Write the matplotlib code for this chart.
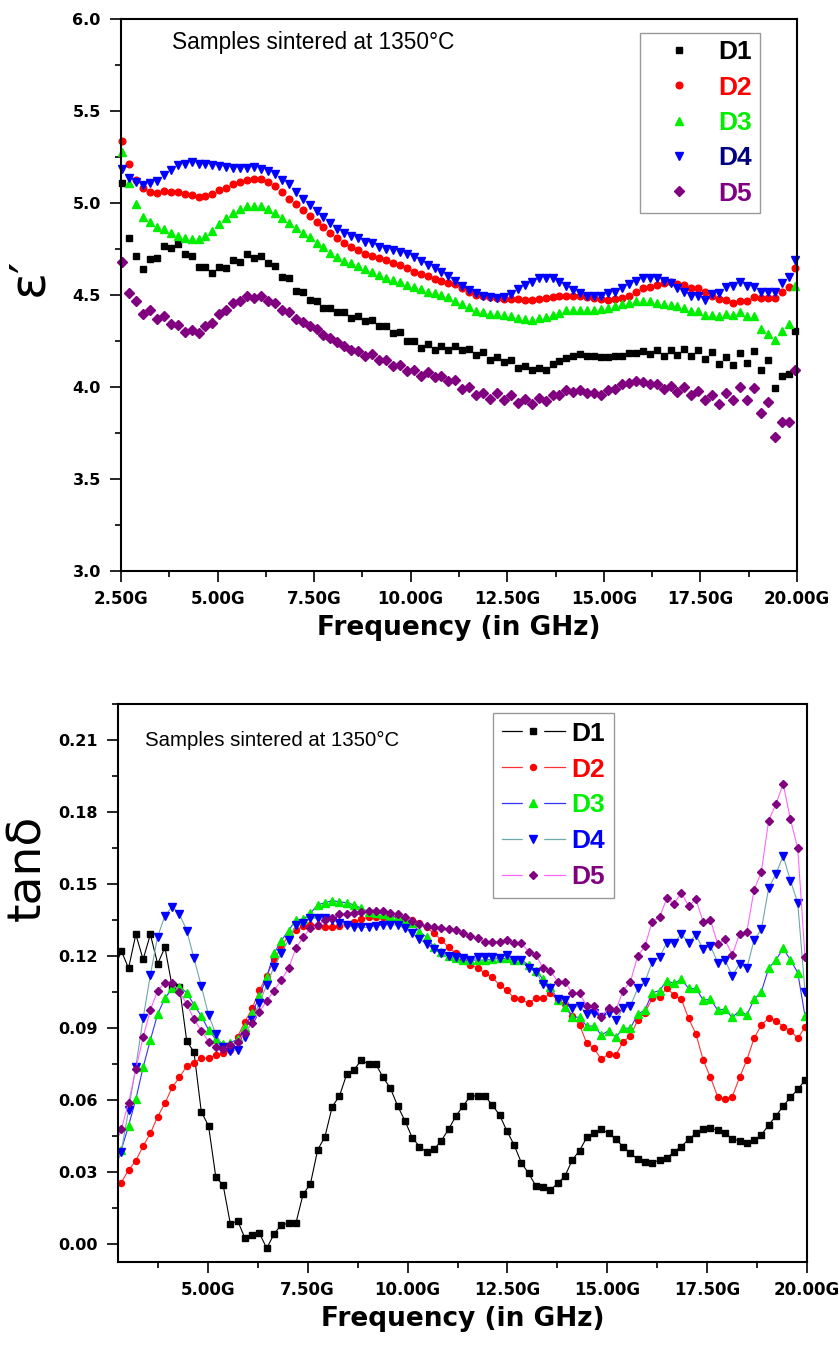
import numpy as np
import matplotlib
matplotlib.use('Agg')
from matplotlib import pyplot as plt
from matplotlib.lines import Line2D
from matplotlib.legend_handler import HandlerTuple
from matplotlib.ticker import MultipleLocator, FuncFormatter

plt.rcParams['font.family'] = ['DejaVu Sans']
ARIAL = ['Liberation Sans', 'DejaVu Sans']

# ---- data: permittivity (top) ----
eps_freq = np.linspace(2.53, 19.96, 98)
eps_d1 = [5.109, 4.808, 4.712, 4.64, 4.694, 4.7, 4.766, 4.754, 4.777, 4.723,
          4.712, 4.654, 4.654, 4.618, 4.654, 4.645, 4.69, 4.681, 4.723, 4.7,
          4.712, 4.672, 4.658, 4.6, 4.591, 4.524, 4.514, 4.474, 4.47, 4.429,
          4.429, 4.405, 4.405, 4.375, 4.384, 4.357, 4.362, 4.329, 4.333, 4.293,
          4.297, 4.248, 4.248, 4.212, 4.236, 4.203, 4.221, 4.203, 4.225,
          4.203, 4.207, 4.176, 4.189, 4.149, 4.163, 4.134, 4.145, 4.104, 4.116,
          4.091, 4.104, 4.095, 4.127, 4.14, 4.158, 4.171, 4.181, 4.171, 4.171,
          4.163, 4.163, 4.167, 4.167, 4.185, 4.185, 4.194, 4.181, 4.203, 4.171,
          4.203, 4.176, 4.207, 4.171, 4.203, 4.153, 4.189, 4.127, 4.163, 4.122,
          4.185, 4.131, 4.194, 4.095, 4.149, 3.995, 4.062, 4.068, 4.302]
eps_d2 = [5.337, 5.21, 5.127, 5.079, 5.06, 5.055, 5.066, 5.06, 5.06, 5.051,
          5.042, 5.033, 5.037, 5.051, 5.069, 5.084, 5.102, 5.115, 5.127, 5.133,
          5.133, 5.115, 5.091, 5.06, 5.024, 4.994, 4.961, 4.929, 4.898, 4.867,
          4.835, 4.808, 4.78, 4.759, 4.745, 4.723, 4.712, 4.699, 4.69, 4.676,
          4.663, 4.645, 4.627, 4.615, 4.604, 4.586, 4.578, 4.564, 4.56,
          4.537, 4.519, 4.501, 4.492, 4.488, 4.483, 4.479, 4.477, 4.477, 4.474,
          4.474, 4.479, 4.483, 4.488, 4.492, 4.497, 4.497, 4.492, 4.488, 4.483,
          4.479, 4.474, 4.479, 4.483, 4.492, 4.514, 4.537, 4.546, 4.555, 4.564,
          4.568, 4.56, 4.555, 4.537, 4.537, 4.514, 4.495, 4.477, 4.474, 4.456,
          4.47, 4.47, 4.488, 4.483, 4.483, 4.483, 4.519, 4.546, 4.645]
eps_d3 = [5.277, 5.106, 4.997, 4.925, 4.898, 4.871, 4.856, 4.835, 4.82, 4.808,
          4.802, 4.802, 4.82, 4.849, 4.885, 4.916, 4.947, 4.97, 4.983, 4.983,
          4.983, 4.965, 4.943, 4.916, 4.893, 4.862, 4.835, 4.813, 4.784, 4.759,
          4.73, 4.708, 4.685, 4.672, 4.658, 4.64, 4.627, 4.609, 4.591, 4.582,
          4.573, 4.555, 4.546, 4.532, 4.519, 4.51, 4.501, 4.488, 4.47,
          4.452, 4.434, 4.411, 4.405, 4.398, 4.398, 4.393, 4.387, 4.375, 4.369,
          4.366, 4.375, 4.38, 4.393, 4.402, 4.416, 4.42, 4.42, 4.42, 4.42,
          4.423, 4.429, 4.438, 4.452, 4.459, 4.465, 4.47, 4.465, 4.456, 4.452,
          4.447, 4.438, 4.429, 4.411, 4.411, 4.393, 4.393, 4.384, 4.398, 4.393,
          4.405, 4.384, 4.384, 4.315, 4.29, 4.254, 4.302, 4.344, 4.55]
eps_d4 = [5.187, 5.138, 5.115, 5.10, 5.109, 5.12, 5.15, 5.178, 5.205, 5.214,
          5.221, 5.214, 5.21, 5.205, 5.2, 5.196, 5.192, 5.192, 5.192, 5.196,
          5.187, 5.174, 5.156, 5.127, 5.102, 5.06, 5.024, 4.988, 4.958, 4.925,
          4.889, 4.856, 4.835, 4.82, 4.808, 4.79, 4.78, 4.763, 4.75, 4.745,
          4.736, 4.723, 4.705, 4.687, 4.663, 4.645, 4.627, 4.604, 4.578,
          4.55, 4.528, 4.51, 4.497, 4.488, 4.486, 4.488, 4.506, 4.532, 4.555,
          4.573, 4.591, 4.595, 4.591, 4.573, 4.55, 4.528, 4.51, 4.497, 4.492,
          4.497, 4.51, 4.519, 4.537, 4.559, 4.578, 4.591, 4.591, 4.591, 4.578,
          4.564, 4.537, 4.519, 4.497, 4.492, 4.474, 4.506, 4.51, 4.542, 4.55,
          4.568, 4.55, 4.546, 4.519, 4.519, 4.519, 4.564, 4.6, 4.69]
eps_d5 = [4.681, 4.51, 4.465, 4.398, 4.416, 4.369, 4.387, 4.344, 4.338, 4.297,
          4.311, 4.293, 4.333, 4.347, 4.398, 4.416, 4.456, 4.465, 4.495, 4.483,
          4.495, 4.465, 4.456, 4.42, 4.405, 4.369, 4.351, 4.333, 4.315, 4.284,
          4.266, 4.243, 4.221, 4.2, 4.194, 4.171, 4.182, 4.149, 4.145, 4.113,
          4.122, 4.086, 4.091, 4.062, 4.08, 4.055, 4.062, 4.031, 4.037,
          3.99, 4.001, 3.954, 3.968, 3.936, 3.965, 3.929, 3.959, 3.914, 3.936,
          3.905, 3.941, 3.923, 3.959, 3.959, 3.983, 3.972, 3.983, 3.965, 3.968,
          3.959, 3.986, 3.99, 4.014, 4.023, 4.032, 4.026, 4.014, 4.019, 3.99,
          4.005, 3.972, 4.001, 3.954, 3.977, 3.929, 3.959, 3.91, 3.968, 3.929,
          4.001, 3.929, 3.995, 3.86, 3.918, 3.73, 3.81, 3.81, 4.095]

# ---- data: loss tangent (bottom) ----
tan_freq = np.linspace(2.65, 19.95, 96)
tan_d1 = [0.114, 0.1222, 0.1149, 0.129, 0.1186, 0.129, 0.1167, 0.1236, 0.1072, 0.1072,
          0.0846, 0.0799, 0.0551, 0.0492, 0.0278, 0.0246, 0.0083, 0.0097, 0.0024, 0.0038,
          0.0044, -0.0018, 0.0042, 0.008, 0.0086, 0.0086, 0.0208, 0.025, 0.0392, 0.0447,
          0.0572, 0.0617, 0.0708, 0.0725, 0.0767, 0.0749, 0.0749, 0.0694, 0.0649, 0.0575,
          0.0513, 0.0443, 0.0406, 0.0382, 0.0394, 0.0431, 0.0478, 0.0533,
          0.0575, 0.0617, 0.0617, 0.0617, 0.0579, 0.0538, 0.0472, 0.0413, 0.0339, 0.0294,
          0.0242, 0.0236, 0.0225, 0.0253, 0.0283, 0.035, 0.0389, 0.0444, 0.0464, 0.0478,
          0.0461, 0.0436, 0.0406, 0.0378, 0.0353, 0.0343, 0.0339, 0.035, 0.0357, 0.0385,
          0.0406, 0.0436, 0.0461, 0.0478, 0.0482, 0.0475, 0.0464, 0.0436, 0.0431, 0.0419,
          0.0433, 0.0454, 0.0496, 0.0533, 0.0575, 0.0611, 0.0644, 0.0683]
tan_d2 = [0.022, 0.0256, 0.0308, 0.0347, 0.0408, 0.0461, 0.0531, 0.0586, 0.0653, 0.0694,
          0.0742, 0.0756, 0.0774, 0.0774, 0.0788, 0.0794, 0.0808, 0.0864, 0.0926, 0.0982,
          0.1058, 0.1117, 0.1186, 0.1236, 0.1288, 0.1308, 0.1325, 0.1329, 0.1325, 0.1322,
          0.1319, 0.1325, 0.1333, 0.1343, 0.1353, 0.1361, 0.1364, 0.1364, 0.1367, 0.1361,
          0.1357, 0.135, 0.1339, 0.1319, 0.1294, 0.1267, 0.1236, 0.1211,
          0.1186, 0.1163, 0.1151, 0.1128, 0.1111, 0.1079, 0.1058, 0.1024, 0.1019, 0.1003,
          0.1024, 0.1024, 0.1044, 0.1017, 0.1, 0.095, 0.0913, 0.0836, 0.0815, 0.0769,
          0.0792, 0.0788, 0.0843, 0.0867, 0.0933, 0.0964, 0.1024, 0.1031, 0.1065, 0.1038,
          0.1019, 0.094, 0.0875, 0.0767, 0.0694, 0.0614, 0.0603, 0.0614, 0.0694, 0.0767,
          0.0857, 0.0913, 0.094, 0.0931, 0.0906, 0.0889, 0.0857, 0.0903]
tan_d3 = [0.033, 0.0392, 0.0492, 0.0603, 0.0736, 0.085, 0.0958, 0.1024, 0.1065, 0.1072,
          0.1047, 0.0996, 0.095, 0.0892, 0.0853, 0.0833, 0.0839, 0.0853, 0.0906, 0.0961,
          0.1033, 0.1114, 0.1211, 0.1264, 0.1306, 0.135, 0.1353, 0.1378, 0.1413, 0.1422,
          0.1431, 0.1426, 0.1422, 0.1413, 0.1399, 0.1385, 0.1381, 0.1375, 0.1367, 0.1361,
          0.1353, 0.1336, 0.1301, 0.1278, 0.1236, 0.1218, 0.12, 0.119,
          0.1183, 0.1183, 0.1183, 0.1183, 0.1186, 0.119, 0.119, 0.1183, 0.1183, 0.1163,
          0.1139, 0.1103, 0.1072, 0.1017, 0.0989, 0.0947, 0.0944, 0.0908, 0.0908, 0.0871,
          0.0889, 0.0861, 0.0899, 0.0899, 0.0958, 0.0975, 0.1047, 0.1056, 0.1097, 0.1086,
          0.1103, 0.1065, 0.1065, 0.1017, 0.1019, 0.0975, 0.0978, 0.0944, 0.0972, 0.0954,
          0.1019, 0.1051, 0.1149, 0.1183, 0.1232, 0.1183, 0.1131, 0.095]
tan_d4 = [0.030, 0.0385, 0.0558, 0.0739, 0.094, 0.1121, 0.1281, 0.1367, 0.1406, 0.1375,
          0.1306, 0.119, 0.1075, 0.0954, 0.0875, 0.0822, 0.0806, 0.0808, 0.0864, 0.0933,
          0.1006, 0.1079, 0.1156, 0.1211, 0.1267, 0.1329, 0.1339, 0.1357, 0.1357, 0.1357,
          0.135, 0.1339, 0.1329, 0.1319, 0.1319, 0.1319, 0.1325, 0.1329, 0.1329, 0.1329,
          0.1315, 0.1294, 0.1269, 0.125, 0.1228, 0.1211, 0.12, 0.1194,
          0.119, 0.1183, 0.1194, 0.1197, 0.1197, 0.119, 0.1204, 0.1183, 0.1183, 0.1149,
          0.1135, 0.1083, 0.1065, 0.1019, 0.1017, 0.0982, 0.0992, 0.0958, 0.0961, 0.0944,
          0.0961, 0.0933, 0.0982, 0.0992, 0.1065, 0.1093, 0.1176, 0.1194, 0.1256, 0.1253,
          0.1292, 0.1256, 0.1288, 0.1228, 0.1242, 0.1172, 0.1183, 0.1117, 0.1167, 0.1149,
          0.1267, 0.1311, 0.1482, 0.1542, 0.1617, 0.1514, 0.1422, 0.1051]
tan_d5 = [0.040, 0.0478, 0.0589, 0.0728, 0.0861, 0.0975, 0.1056, 0.1089, 0.1089, 0.1051,
          0.1, 0.0936, 0.0889, 0.0843, 0.0819, 0.0811, 0.0829, 0.0843, 0.0881, 0.0922,
          0.0968, 0.1014, 0.1056, 0.11, 0.1149, 0.1232, 0.1278, 0.1315, 0.1329, 0.135,
          0.1357, 0.1375, 0.1375, 0.1381, 0.1385, 0.1389, 0.1389, 0.1389, 0.1381, 0.1375,
          0.1361, 0.1347, 0.1333, 0.1325, 0.1319, 0.1315, 0.1311, 0.1308,
          0.1297, 0.1283, 0.1274, 0.126, 0.126, 0.126, 0.1267, 0.1253, 0.1253, 0.1218,
          0.1204, 0.1149, 0.1139, 0.1093, 0.1093, 0.1044, 0.1044, 0.0992, 0.0992, 0.0947,
          0.0982, 0.0975, 0.1056, 0.1093, 0.12, 0.1242, 0.1343, 0.1361, 0.144, 0.1417,
          0.1464, 0.1408, 0.1436, 0.1343, 0.135, 0.125, 0.1269, 0.1204, 0.1292, 0.1301,
          0.1475, 0.1551, 0.1764, 0.1833, 0.1917, 0.1769, 0.1649, 0.1197]

labels = ['D1', 'D2', 'D3', 'D4', 'D5']
markers = ['s', 'o', '^', 'v', 'D']
marker_colors = ['black', '#ff0000', '#00ee00', '#0000ff', '#800080']
marker_sizes = [4.3, 4.8, 6.0, 6.0, 4.8]
top_text_colors = ['black', '#ff0000', '#00ee00', '#000080', '#800080']
bot_text_colors = ['black', '#ff0000', '#00ee00', '#0000ff', '#800080']
line_colors = ['black', '#ff3333', '#3333ff', '#6fa8a8', '#ff66ff']

ghz_fmt = FuncFormatter(lambda v, p: '%.2fG' % v)


def style_axis(ax):
    for s in ax.spines.values():
        s.set_linewidth(1.5)
    ax.tick_params(which='both', direction='out', top=False, right=False, width=1.2)
    ax.tick_params(which='major', length=8)
    ax.tick_params(which='minor', length=4.3)
    ax.tick_params(axis='x', which='major', labelsize=12, pad=6)
    ax.tick_params(axis='y', which='major', labelsize=11.5, pad=6.5)
    for t in ax.get_xticklabels() + ax.get_yticklabels():
        t.set_fontweight('bold')


fig = plt.figure(figsize=(8.39, 13.52), dpi=100)

# ---- top panel ----
ax1 = fig.add_axes([121/839, 1-571/1352, 676/839, 552/1352])
for y, lab, m, c, ms in zip([eps_d1, eps_d2, eps_d3, eps_d4, eps_d5],
                            labels, markers, marker_colors, marker_sizes):
    ax1.plot(eps_freq, y, linestyle='none', marker=m, color=c, ms=ms,
             mec=c, label=lab, clip_on=False)
ax1.set_xlim(2.5, 20)
ax1.set_ylim(3.0, 6.0)
ax1.xaxis.set_major_locator(MultipleLocator(2.5))
ax1.xaxis.set_minor_locator(MultipleLocator(1.25))
ax1.yaxis.set_major_locator(MultipleLocator(0.5))
ax1.yaxis.set_minor_locator(MultipleLocator(0.25))
ax1.xaxis.set_major_formatter(ghz_fmt)
ax1.yaxis.set_major_formatter(FuncFormatter(lambda v, p: '%.1f' % v))
style_axis(ax1)
ax1.set_xlabel('Frequency (in GHz)', fontsize=19, fontweight='bold', labelpad=5)
ax1.text(0.075, 0.958, 'Samples sintered at 1350°C', transform=ax1.transAxes,
         fontsize=16.3, va='center', ha='left', family=ARIAL)
leg1 = ax1.legend(loc='upper right', bbox_to_anchor=(0.945, 0.975),
                  prop={'weight': 'bold', 'size': 19, 'family': ARIAL},
                  frameon=True, fancybox=False, edgecolor='#808080',
                  handlelength=2.35, handletextpad=0.34, numpoints=1,
                  labelspacing=0.43, borderpad=0.28, borderaxespad=0)
leg1.get_frame().set_linewidth(1.0)
for t, c in zip(leg1.get_texts(), top_text_colors):
    t.set_color(c)
fig.text(28/839, 1-277/1352, 'ε′', rotation=90, fontsize=36,
         ha='center', va='center')

# ---- bottom panel ----
ax2 = fig.add_axes([118/839, 1-1262/1352, 689/839, 558/1352])
handles = []
for y, lab, m, mc, lc, ms in zip([tan_d1, tan_d2, tan_d3, tan_d4, tan_d5],
                                 labels, markers, marker_colors, line_colors,
                                 marker_sizes):
    ax2.plot(tan_freq, y, linestyle='-', lw=0.8, color=lc, marker=m,
             mfc=mc, mec=mc, ms=ms*0.9)
    # legend entry: line, white gap, marker (drawn on top of each other)
    handles.append((Line2D([], [], color=lc, lw=0.9),
                    Line2D([], [], ls='none', marker='s', ms=15, mfc='white', mec='white'),
                    Line2D([], [], ls='none', marker=m, ms=ms*0.9, mfc=mc, mec=mc)))
ax2.set_xlim(2.75, 20)
ax2.set_ylim(-0.0075, 0.225)
ax2.xaxis.set_major_locator(MultipleLocator(2.5))
ax2.xaxis.set_minor_locator(MultipleLocator(1.25))
ax2.yaxis.set_major_locator(MultipleLocator(0.03))
ax2.yaxis.set_minor_locator(MultipleLocator(0.015))
ax2.xaxis.set_major_formatter(ghz_fmt)
ax2.yaxis.set_major_formatter(FuncFormatter(lambda v, p: '%.2f' % v))
style_axis(ax2)
ax2.set_xlabel('Frequency (in GHz)', fontsize=19, fontweight='bold', labelpad=5)
ax2.text(0.039, 0.935, 'Samples sintered at 1350°C', transform=ax2.transAxes,
         fontsize=14.7, va='center', ha='left', family=ARIAL)
leg2 = ax2.legend(handles, labels, loc='upper left', bbox_to_anchor=(0.544, 0.984),
                  handler_map={tuple: HandlerTuple(ndivide=1, pad=0)},
                  prop={'weight': 'bold', 'size': 19, 'family': ARIAL},
                  frameon=True, fancybox=False, edgecolor='#808080',
                  handlelength=2.4, handletextpad=0.25,
                  labelspacing=0.45, borderpad=0.33, borderaxespad=0)
leg2.get_frame().set_linewidth(1.0)
for t, c in zip(leg2.get_texts(), bot_text_colors):
    t.set_color(c)
fig.text(28/839, 1-868/1352, 'tanδ', rotation=90, fontsize=34,
         ha='center', va='center')

plt.savefig('out.png', dpi=100)
